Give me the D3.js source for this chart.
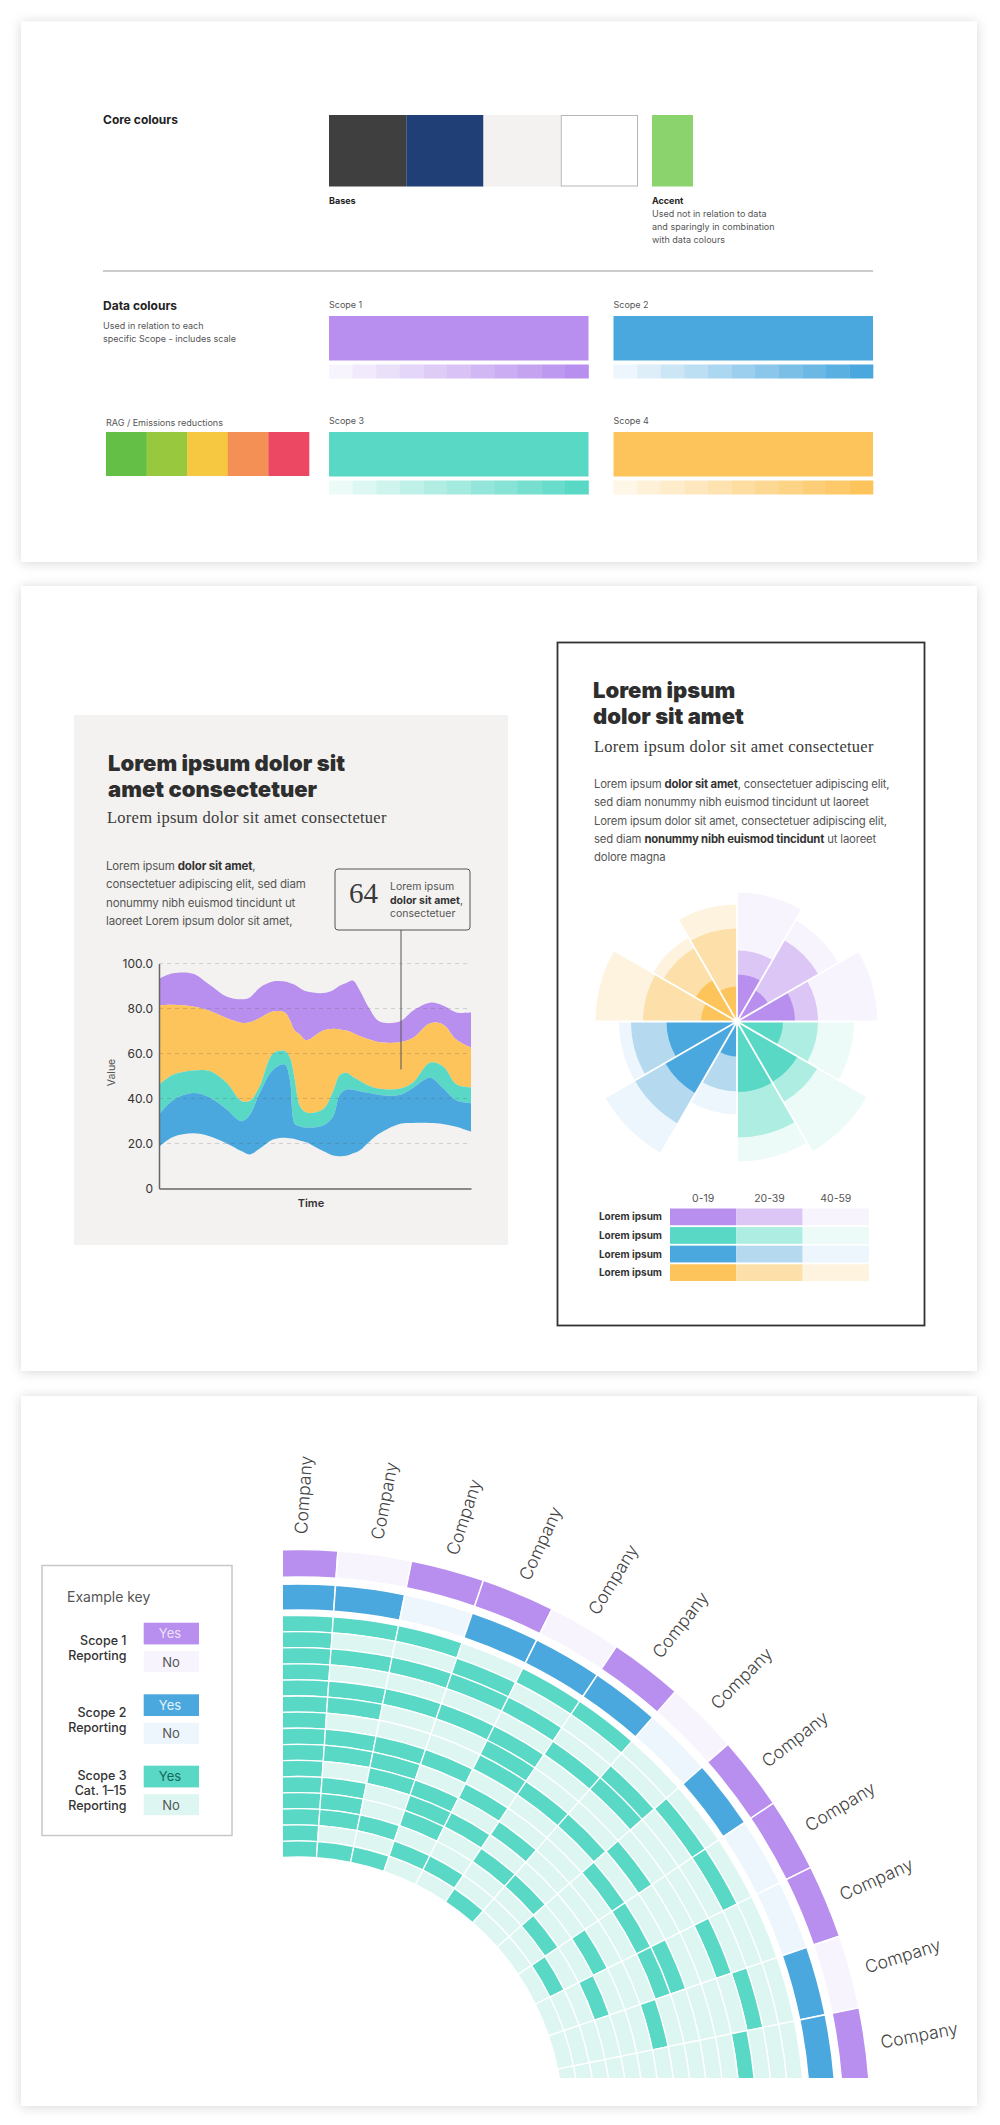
<!DOCTYPE html>
<html>
<head>
<meta charset="utf-8">
<script src="https://cdnjs.cloudflare.com/ajax/libs/d3/7.8.5/d3.min.js"></script>
<style>
  body { margin: 0; background: #fff; }
  svg { display: block; font-family: Inter, "Noto Sans", sans-serif; }
</style>
</head>
<body>
<div id="chart"></div>
<script>
// palette lists
const coreColours = ["#3f3f3f", "#1f3f76", "#f3f2f0", "#ffffff"];
const accentColour = "#8bd36c";
const ragColours = ["#63bf45", "#98c83e", "#f6c842", "#f48f56", "#ec4864"];
const scopeNames = ["Scope 1", "Scope 2", "Scope 3", "Scope 4"];
const scopeDark = ["#b88fee", "#4aa8de", "#5ad8c6", "#fdc45c"];
const scopeLight = ["#f7f4fd", "#edf6fc", "#ecfbf8", "#fef6e6"];

// streamgraph, boundaries of each band
const timeGrid = [0, 4.5, 10.9, 16.2, 21.6, 26.4, 29.1, 32.3, 36.5, 40.3, 41.9, 43.5, 45.1, 47.2, 52.6, 55.8, 57.9, 60, 62.2, 64.3, 67.5, 70.7, 77.1, 81.4, 86.8, 91, 95.3, 100];
const baseLine = [18.5, 22.9, 24.5, 23.2, 20.1, 16.6, 15.1, 17.7, 21.7, 22.5, 22.3, 22, 21.3, 20.5, 16.6, 14.6, 14.3, 14.5, 15.6, 16.9, 20.9, 24.5, 28.7, 29.1, 29.1, 28.7, 27.4, 25.2];
const blueTop = [32.8, 39.2, 42.4, 40.4, 35.2, 29.9, 32.8, 42.4, 52.7, 55.1, 48.7, 28.8, 27.7, 27.1, 28, 32, 41.6, 43.9, 43.9, 43.2, 42.4, 41.6, 41.6, 44.7, 49.2, 44.7, 39.2, 37.9];
const tealTop = [46.2, 50.6, 52.5, 52.2, 47.1, 38.9, 38.9, 45.5, 59.9, 61.1, 58.3, 48.7, 36.8, 33.8, 35.2, 43.2, 50.3, 51.4, 49.5, 47.9, 45.5, 44.3, 44.3, 47.1, 55.9, 54.3, 46.3, 44.9];
const orangeTop = [81.4, 81.7, 80.9, 79, 75.8, 73.7, 73.9, 75.8, 78.7, 78.2, 75, 70.2, 68.6, 65.9, 70.2, 71, 70.7, 70.2, 69.1, 67.8, 66.2, 65, 65, 67, 73.4, 72.9, 66.2, 62.6];
const purpleTop = [93.3, 95.7, 95.5, 90.6, 85.4, 84.1, 84.9, 89.3, 92, 92, 91.4, 90.6, 89.2, 87.7, 86.9, 88.2, 90.1, 91.4, 92.4, 88.2, 79.8, 74.2, 74.2, 79, 82.6, 81.4, 78.3, 78.2];
const streamTicks = [0, 20, 40, 60, 80, 100];
const calloutValue = 52.9;

// rose, 12 wedges clockwise from north, outer value of each ring
const roseDark = [18.8, 14.4, 23.2, 18.4, 28, 28.2, 14, 33.2, 28.2, 14.4, 19.2, 14];
const roseMid = [28.4, 37.6, 32.4, 32.4, 37.2, 46.4, 28, 47.2, 42.4, 37.6, 34, 37.2];
const roseLight = [51.6, 46.8, 56, 46.8, 60, 56, 37.2, 60.8, 47.2, 56.6, 38.8, 46.8];
const roseDarkColours = ["#b88fee", "#5ad8c6", "#4aa8de", "#fdc45c"];
const roseMidColours = ["#dcc6f6", "#aeeee2", "#b5daf0", "#fde0a9"];
const roseLightColours = ["#f7f4fd", "#ecfbf8", "#edf6fc", "#fef3df"];
const roseBands = ["0-19", "20-39", "40-59"];

// polar reporting chart, one entry per company
const companies = d3.range(12).map(() => "Company");
const scope1Yes = [1, 0, 1, 1, 0, 1, 0, 1, 1, 1, 0, 1];
const scope2Yes = [1, 1, 0, 1, 1, 1, 0, 1, 0, 0, 1, 1];
const scope3Yes = [
  [0, 1, 2, 3, 4, 5, 6, 7, 8, 9, 10, 11, 12, 13, 14],
  [0, 2, 4, 5, 7, 8, 10, 11, 12, 14],
  [0, 2, 4, 7, 8, 9, 12, 14],
  [1, 2, 4, 7, 9, 10, 11, 13],
  [0, 2, 4, 5, 6, 8, 10, 13],
  [0, 3, 6, 9, 11, 14],
  [2, 3, 6, 11],
  [1, 5, 7, 12],
  [1, 7, 10, 13],
  [3, 6, 7, 11],
  [2, 8],
  [3]
];

const svg = d3.select("#chart").append("svg").attr("width", 1000).attr("height", 2125);

const shadow = svg.append("defs").append("filter").attr("id", "shadow")
  .attr("x", "-5%").attr("y", "-5%").attr("width", "110%").attr("height", "110%");
shadow.append("feDropShadow").attr("dx", 0).attr("dy", 1).attr("stdDeviation", 6)
  .attr("flood-color", "#000").attr("flood-opacity", 0.16);

function label(parent, x, y, str, size, colour, weight, anchor) {
  return parent.append("text").attr("x", x).attr("y", y).text(str)
    .attr("font-size", size).attr("fill", colour || "#444")
    .attr("font-weight", weight || 400).attr("text-anchor", anchor || "start");
}

// lines are arrays of [string, bold]
function richLines(parent, x, y, lineHeight, size, lines, spacing) {
  lines.forEach((line, i) => {
    const t = parent.append("text").attr("x", x).attr("y", y + i * lineHeight).attr("font-size", size)
      .attr("fill", "#555").attr("letter-spacing", spacing || 0);
    line.forEach((seg) => {
      t.append("tspan").text(seg[0]).attr("font-weight", seg[1] ? 700 : 400).attr("fill", seg[1] ? "#333" : "#555");
    });
  });
}

function heading(parent, x, y, lineHeight, size, lines) {
  lines.forEach((line, i) => {
    label(parent, x, y + i * lineHeight, line, size, "#2e2e2e", 900);
  });
}

function serif(parent, x, y, str, size) {
  return label(parent, x, y, str, size, "#3a3a3a").style("font-family", "'Liberation Serif', serif");
}

// white cards
[[21, 21.5, 956, 540.5], [21, 586, 956, 785], [21, 1396, 956, 710]].forEach((p) => {
  svg.append("rect").attr("x", p[0]).attr("y", p[1]).attr("width", p[2]).attr("height", p[3])
    .attr("fill", "#fff").attr("filter", "url(#shadow)");
});

/* ---------- Card 1: colour guide ---------- */
const guide = svg.append("g");
label(guide, 103, 124, "Core colours", 12, "#222", 700);
const coreX = d3.scaleBand().domain(d3.range(coreColours.length)).range([329, 638]);
guide.selectAll(".core").data(coreColours).join("rect")
  .attr("x", (d, i) => coreX(i)).attr("y", 115)
  .attr("width", coreX.bandwidth()).attr("height", 71.5)
  .attr("fill", (d) => d);
guide.append("rect").attr("x", coreX(3) + 0.5).attr("y", 115.5).attr("width", coreX.bandwidth() - 1).attr("height", 70.5)
  .attr("fill", "none").attr("stroke", "#b5b5b5").attr("stroke-width", 1);
guide.append("rect").attr("x", 652).attr("y", 115).attr("width", 41).attr("height", 71.5).attr("fill", accentColour);
label(guide, 329, 203.5, "Bases", 9, "#222", 700);
label(guide, 652, 203.5, "Accent", 9, "#222", 700);
["Used not in relation to data", "and sparingly in combination", "with data colours"].forEach((s, i) => {
  label(guide, 652, 216.5 + i * 13, s, 9, "#555");
});
guide.append("line").attr("x1", 103).attr("x2", 873).attr("y1", 271).attr("y2", 271).attr("stroke", "#999").attr("stroke-width", 1.2);

label(guide, 103, 310, "Data colours", 12, "#222", 700);
label(guide, 103, 328.5, "Used in relation to each", 9, "#555");
label(guide, 103, 341.5, "specific Scope - includes scale", 9, "#555");

label(guide, 106, 425.5, "RAG / Emissions reductions", 9, "#555");
const ragX = d3.scaleBand().domain(d3.range(ragColours.length)).range([106, 309]);
guide.selectAll(".rag").data(ragColours).join("rect")
  .attr("x", (d, i) => ragX(i)).attr("y", 432)
  .attr("width", ragX.bandwidth() + 0.3).attr("height", 44)
  .attr("fill", (d) => d);

scopeNames.forEach((name, i) => {
  const x0 = i % 2 === 0 ? 329 : 613.5;
  const y0 = i < 2 ? 316 : 432;
  label(guide, x0, y0 - 8.5, name, 9, "#555");
  guide.append("rect").attr("x", x0).attr("y", y0).attr("width", 259.5).attr("height", 44.5).attr("fill", scopeDark[i]);
  const stepX = d3.scaleBand().domain(d3.range(11)).range([x0, x0 + 259.5]);
  const stepColour = d3.scaleLinear().domain([0, 10]).range([scopeLight[i], scopeDark[i]]);
  guide.selectAll(".step" + i).data(d3.range(11)).join("rect")
    .attr("x", (d) => stepX(d)).attr("y", y0 + 48.5)
    .attr("width", stepX.bandwidth() + 0.3).attr("height", 14)
    .attr("fill", (d) => stepColour(d));
});

/* ---------- Card 2 left: streamgraph ---------- */
const stream = svg.append("g");
stream.append("rect").attr("x", 74).attr("y", 715).attr("width", 434).attr("height", 530).attr("fill", "#f3f2f0");
heading(stream, 108, 771, 26, 22, ["Lorem ipsum dolor sit", "amet consectetuer"]);
serif(stream, 107, 822.5, "Lorem ipsum dolor sit amet consectetuer", 16.5).attr("letter-spacing", 0.25);
richLines(stream, 106, 870, 18.3, 11.5, [
  [["Lorem ipsum ", 0], ["dolor sit amet", 1], [",", 0]],
  [["consectetuer adipiscing elit, sed diam", 0]],
  [["nonummy nibh euismod tincidunt ut", 0]],
  [["laoreet Lorem ipsum dolor sit amet,", 0]]
], -0.15);

const timeX = d3.scaleLinear().domain([0, 100]).range([159, 471]);
const valueY = d3.scaleLinear().domain([0, 100]).range([1188.4, 963.6]);

const bands = [
  [purpleTop, orangeTop, scopeDark[0]],
  [orangeTop, tealTop, scopeDark[3]],
  [tealTop, blueTop, scopeDark[2]],
  [blueTop, baseLine, scopeDark[1]]
];
bands.forEach((band) => {
  const area = d3.area()
    .x((d, i) => timeX(timeGrid[i]))
    .y0((d, i) => valueY(band[1][i]))
    .y1((d) => valueY(d))
    .curve(d3.curveCatmullRom.alpha(0.5));
  stream.append("path").attr("d", area(band[0])).attr("fill", band[2]);
});

stream.selectAll(".grid").data(streamTicks.slice(1)).join("line")
  .attr("x1", timeX(0)).attr("x2", timeX(100))
  .attr("y1", (d) => valueY(d)).attr("y2", (d) => valueY(d))
  .attr("stroke", "#555").attr("stroke-opacity", 0.3).attr("stroke-width", 0.8).attr("stroke-dasharray", "4 4");

const yAxis = stream.append("g").attr("transform", `translate(${timeX(0)},0)`)
  .call(d3.axisLeft(valueY).tickValues(streamTicks).tickSize(0).tickPadding(6)
    .tickFormat((d) => (d === 0 ? "0" : d.toFixed(1))));
yAxis.select(".domain").attr("stroke", "#666").attr("stroke-width", 1.5);
yAxis.selectAll("text").attr("font-size", 12).attr("fill", "#333").style("font-family", "Inter");
const xAxis = stream.append("g").attr("transform", `translate(0,${valueY(0)})`)
  .call(d3.axisBottom(timeX).tickValues([]).tickSize(0));
xAxis.select(".domain").attr("stroke", "#666").attr("stroke-width", 1.5);

label(stream, 0, 0, "Value", 10.5, "#555", 400, "middle").attr("transform", "translate(115,1072.5) rotate(-90)");
label(stream, 311, 1206.5, "Time", 11, "#333", 600, "middle");

stream.append("line").attr("x1", 401).attr("x2", 401).attr("y1", 930).attr("y2", valueY(calloutValue))
  .attr("stroke", "#555").attr("stroke-width", 1);
stream.append("rect").attr("x", 335).attr("y", 869).attr("width", 135).attr("height", 61).attr("rx", 3)
  .attr("fill", "#f3f2f0").attr("stroke", "#555").attr("stroke-width", 1);
serif(stream, 349, 903, "64", 29);
richLines(stream, 390, 890, 13.5, 10.5, [
  [["Lorem ipsum", 0]],
  [["dolor sit amet", 1], [",", 0]],
  [["consectetuer", 0]]
]);

/* ---------- Card 2 right: rose ---------- */
const roseCard = svg.append("g");
roseCard.append("rect").attr("x", 557.5).attr("y", 642.5).attr("width", 367).attr("height", 683)
  .attr("fill", "#fff").attr("stroke", "#333").attr("stroke-width", 1.8);
heading(roseCard, 593, 698, 26, 22, ["Lorem ipsum", "dolor sit amet"]);
serif(roseCard, 594, 751.5, "Lorem ipsum dolor sit amet consectetuer", 16.5).attr("letter-spacing", 0.25);
richLines(roseCard, 594, 788, 18.3, 11.3, [
  [["Lorem ipsum ", 0], ["dolor sit amet", 1], [", consectetuer adipiscing elit,", 0]],
  [["sed diam nonummy nibh euismod tincidunt ut laoreet", 0]],
  [["Lorem ipsum dolor sit amet, consectetuer adipiscing elit,", 0]],
  [["sed diam ", 0], ["nonummy nibh euismod tincidunt", 1], [" ut laoreet", 0]],
  [["dolore magna", 0]]
], -0.15);

const rose = roseCard.append("g").attr("transform", "translate(737,1021.5)");
const roseR = d3.scaleLinear().domain([0, 60]).range([0, 150]);
const wedgeAngle = d3.scaleLinear().domain([0, 12]).range([0, 2 * Math.PI]);
const wedgeArc = d3.arc().innerRadius(0)
  .startAngle((d) => wedgeAngle(d.i)).endAngle((d) => wedgeAngle(d.i + 1))
  .outerRadius((d) => roseR(d.v));
[[roseLight, roseLightColours], [roseMid, roseMidColours], [roseDark, roseDarkColours]].forEach((ring) => {
  rose.selectAll(null).data(ring[0].map((v, i) => ({ v, i }))).join("path")
    .attr("d", wedgeArc)
    .attr("fill", (d) => ring[1][(Math.floor(d.i / 3))]);
});
rose.selectAll(".spoke").data(d3.range(12)).join("line")
  .attr("x2", (d) => d3.pointRadial(wedgeAngle(d), roseR(61))[0])
  .attr("y2", (d) => d3.pointRadial(wedgeAngle(d), roseR(61))[1])
  .attr("stroke", "#fff").attr("stroke-width", 1.8);
rose.append("circle").attr("r", 2.5).attr("fill", "#fff");

const legendX = d3.scaleBand().domain(roseBands).range([670, 869]);
const legendRows = ["Lorem ipsum", "Lorem ipsum", "Lorem ipsum", "Lorem ipsum"];
const legendY = d3.scaleBand().domain(d3.range(legendRows.length)).range([1208.5, 1281]).paddingInner(0.1);
roseBands.forEach((b) => {
  label(roseCard, legendX(b) + legendX.bandwidth() / 2, 1201.5, b, 10.5, "#555", 400, "middle");
});
legendRows.forEach((name, i) => {
  label(roseCard, 662, legendY(i) + legendY.bandwidth() / 2 + 3.5, name, 10, "#333", 700, "end");
  [roseDarkColours, roseMidColours, roseLightColours].forEach((cols, j) => {
    roseCard.append("rect").attr("x", legendX(roseBands[j])).attr("y", legendY(i))
      .attr("width", legendX.bandwidth()).attr("height", legendY.bandwidth()).attr("fill", cols[i]);
  });
});

/* ---------- Card 3: polar reporting chart ---------- */
const polarCard = svg.append("g");
const clip = svg.select("defs").append("clipPath").attr("id", "polar-clip");
clip.append("rect").attr("x", 283).attr("y", 1500).attr("width", 620).attr("height", 578);

const polarCx = 298;
const polarCy = 2122;
const deg = Math.PI / 180;
const companyAngle = d3.scaleLinear().domain([0, companies.length]).range([-3.45 * deg, 85.95 * deg]);
const labelTilt = d3.scaleLinear().domain([0, companies.length - 1]).range([-86, -10.5]);
const rowBand = d3.scaleBand().domain(d3.range(15)).range([506.5, 265]);
const polar = polarCard.append("g").attr("clip-path", "url(#polar-clip)")
  .append("g").attr("transform", `translate(${polarCx},${polarCy})`);

function ringCell(inner, outer, i) {
  return d3.arc()({ innerRadius: inner, outerRadius: outer, startAngle: companyAngle(i), endAngle: companyAngle(i + 1) });
}

function drawRing(data, inner, outer, yes, no) {
  polar.selectAll(null).data(data).join("path")
    .attr("d", (d, i) => ringCell(inner, outer, i))
    .attr("fill", (d) => (d ? yes : no))
    .attr("stroke", "#fff").attr("stroke-width", 1.5);
}

drawRing(scope1Yes, 545, 572.5, scopeDark[0], scopeLight[0]);
drawRing(scope2Yes, 512, 538, scopeDark[1], scopeLight[1]);
scope3Yes.forEach((rows, i) => {
  polar.selectAll(null).data(rowBand.domain()).join("path")
    .attr("d", (r) => ringCell(rowBand(r), rowBand(r) + rowBand.bandwidth(), i))
    .attr("fill", (r) => (rows.includes(r) ? scopeDark[2] : "#def6f1"))
    .attr("stroke", "#fff").attr("stroke-width", 1.3);
});

const labelGroup = polarCard.append("g").attr("transform", `translate(${polarCx},${polarCy})`);
labelGroup.selectAll("text").data(companies).join("text")
  .text((d) => d)
  .attr("transform", (d, i) => {
    const p = d3.pointRadial(companyAngle(i + 0.5), 588);
    return `translate(${p[0]},${p[1]}) rotate(${labelTilt(i)})`;
  })
  .attr("dy", "0.35em")
  .attr("font-size", 17.5).attr("font-weight", 300).attr("fill", "#444");

// key
const key = svg.append("g");
key.append("rect").attr("x", 42).attr("y", 1565.5).attr("width", 190).attr("height", 270)
  .attr("fill", "#fff").attr("stroke", "#c8c8c8").attr("stroke-width", 1.5);
label(key, 67, 1602, "Example key", 14, "#555");
const keyGroups = [
  { lines: ["Scope 1", "Reporting"], colour: scopeDark[0], pale: scopeLight[0], yesText: "#ece2fb", top: 1622.7, textTop: 1645 },
  { lines: ["Scope 2", "Reporting"], colour: scopeDark[1], pale: scopeLight[1], yesText: "#e4f2fb", top: 1694.3, textTop: 1717 },
  { lines: ["Scope 3", "Cat. 1–15", "Reporting"], colour: scopeDark[2], pale: "#def6f1", yesText: "#15685c", top: 1765.7, textTop: 1780 }
];
keyGroups.forEach((g) => {
  g.lines.forEach((s, i) => {
    label(key, 126.5, g.textTop + i * 15, s, 12.5, "#333", 500, "end");
  });
  key.append("rect").attr("x", 143.7).attr("y", g.top).attr("width", 55.3).attr("height", 21.7).attr("fill", g.colour);
  key.append("rect").attr("x", 143.7).attr("y", g.top + 28.5).attr("width", 55.3).attr("height", 21).attr("fill", g.pale);
  label(key, 170, g.top + 15.5, "Yes", 13, g.yesText, 400, "middle");
  label(key, 171, g.top + 44, "No", 13, "#555", 400, "middle");
});
</script>
</body>
</html>
